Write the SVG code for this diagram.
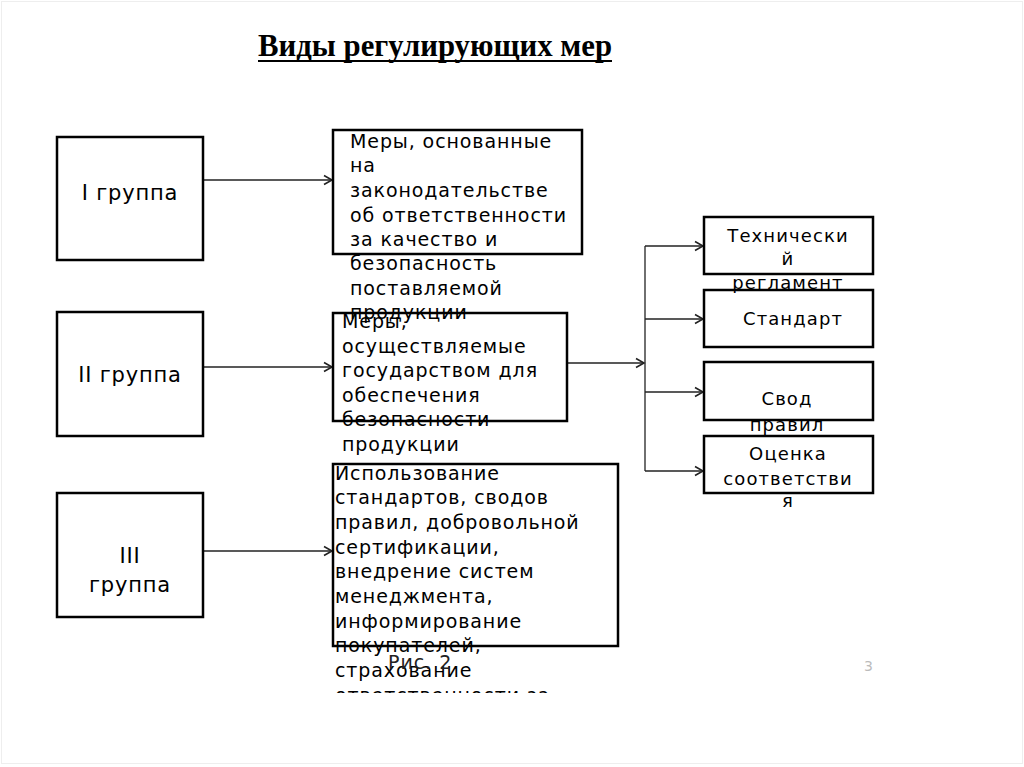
<svg xmlns="http://www.w3.org/2000/svg" width="1024" height="767" viewBox="0 0 1024 767">
<style>
.box{fill:none;stroke:#000;stroke-width:2.5}
.con{fill:none;stroke:#222;stroke-width:1.3}
.t{font-family:"DejaVu Sans",sans-serif;font-size:19px;letter-spacing:0.9px;fill:#000}
.lbl{font-family:"DejaVu Sans",sans-serif;font-size:21px;letter-spacing:0.8px;fill:#000;text-anchor:middle}
.rt{font-family:"DejaVu Sans",sans-serif;font-size:18px;letter-spacing:1.1px;fill:#000;text-anchor:middle}
</style>
<defs>
<marker id="arr" markerUnits="userSpaceOnUse" markerWidth="12" markerHeight="12" refX="9" refY="6" orient="auto">
<path d="M1,1.5 L9,6 L1,10.5" fill="none" stroke="#222" stroke-width="1.6"/>
</marker>
<clipPath id="clip3"><rect x="0" y="0" width="1024" height="693"/></clipPath>
</defs>
<rect x="1.5" y="1.5" width="1021" height="762" fill="#fff" stroke="#eeeeee" stroke-width="1"/>
<g id="title">
<text x="258" y="56" font-family="Liberation Serif, serif" font-size="31" font-weight="bold" textLength="354" lengthAdjust="spacingAndGlyphs">Виды регулирующих мер</text>
<line x1="258" y1="61" x2="612" y2="61" stroke="#000" stroke-width="2.2"/>
</g>
<g id="connectors">
<line class="con" x1="203" y1="180" x2="332" y2="180" marker-end="url(#arr)"/>
<line class="con" x1="203" y1="367" x2="332" y2="367" marker-end="url(#arr)"/>
<line class="con" x1="203" y1="551" x2="332" y2="551" marker-end="url(#arr)"/>
<line class="con" x1="567" y1="363" x2="644" y2="363" marker-end="url(#arr)"/>
<line class="con" x1="645" y1="246" x2="645" y2="471"/>
<line class="con" x1="645" y1="246" x2="703" y2="246" marker-end="url(#arr)"/>
<line class="con" x1="645" y1="319" x2="703" y2="319" marker-end="url(#arr)"/>
<line class="con" x1="645" y1="392" x2="703" y2="392" marker-end="url(#arr)"/>
<line class="con" x1="645" y1="471" x2="703" y2="471" marker-end="url(#arr)"/>
</g>
<g id="g1">
<rect class="box" x="57" y="137" width="146" height="123"/>
<text class="lbl" x="130" y="200">I группа</text>
</g>
<g id="g2">
<rect class="box" x="57" y="312" width="146" height="124"/>
<text class="lbl" x="130" y="382">II группа</text>
</g>
<g id="g3">
<rect class="box" x="57" y="493" width="146" height="124"/>
<text class="lbl" x="130" y="563">III</text>
<text class="lbl" x="130" y="592">группа</text>
</g>
<g id="m1">
<rect class="box" x="333" y="130" width="249" height="124"/>
<text class="t" x="350" y="148">Меры, основанные</text>
<text class="t" x="350" y="172">на</text>
<text class="t" x="350" y="197">законодательстве</text>
<text class="t" x="350" y="222">об ответственности</text>
<text class="t" x="350" y="246">за качество и</text>
<text class="t" x="350" y="270">безопасность</text>
<text class="t" x="350" y="295">поставляемой</text>
<text class="t" x="350" y="319">продукции</text>
</g>
<g id="m2">
<rect class="box" x="333" y="313" width="234" height="108"/>
<text class="t" x="342" y="328">Меры,</text>
<text class="t" x="342" y="353">осуществляемые</text>
<text class="t" x="342" y="377">государством для</text>
<text class="t" x="342" y="402">обеспечения</text>
<text class="t" x="342" y="426">безопасности</text>
<text class="t" x="342" y="451">продукции</text>
</g>
<g id="m3">
<rect class="box" x="333" y="464" width="285" height="182"/>
<g clip-path="url(#clip3)">
<text class="t" x="335" y="480">Использование</text>
<text class="t" x="335" y="504">стандартов, сводов</text>
<text class="t" x="335" y="529">правил, добровольной</text>
<text class="t" x="335" y="554">сертификации,</text>
<text class="t" x="335" y="578">внедрение систем</text>
<text class="t" x="335" y="603">менеджмента,</text>
<text class="t" x="335" y="628">информирование</text>
<text class="t" x="335" y="652">покупателей,</text>
<text class="t" x="335" y="677">страхование</text>
<text class="t" x="335" y="702">ответственности за</text>
</g>
</g>
<g id="r1">
<rect class="box" x="704" y="217" width="169" height="57"/>
<text class="rt" x="788" y="242">Технически</text>
<text class="rt" x="788" y="265">й</text>
<text class="rt" x="788" y="289">регламент</text>
</g>
<g id="r2">
<rect class="box" x="704" y="290" width="169" height="57"/>
<text class="rt" x="793" y="325" font-size="21">Стандарт</text>
</g>
<g id="r3">
<rect class="box" x="704" y="362" width="169" height="58"/>
<text class="rt" x="787" y="405" font-size="21">Свод</text>
<text class="rt" x="787" y="431" font-size="21">правил</text>
</g>
<g id="r4">
<rect class="box" x="704" y="436" width="169" height="57"/>
<text class="rt" x="788" y="460">Оценка</text>
<text class="rt" x="788" y="485">соответстви</text>
<text class="rt" x="788" y="507">я</text>
</g>
<g id="caption">
<text x="388" y="669" font-family="DejaVu Sans, sans-serif" font-size="19" fill="#222" letter-spacing="1">Рис. 2</text>
<text x="864" y="671" font-family="DejaVu Sans, sans-serif" font-size="14" fill="#bbbbbb">3</text>
</g>
</svg>
